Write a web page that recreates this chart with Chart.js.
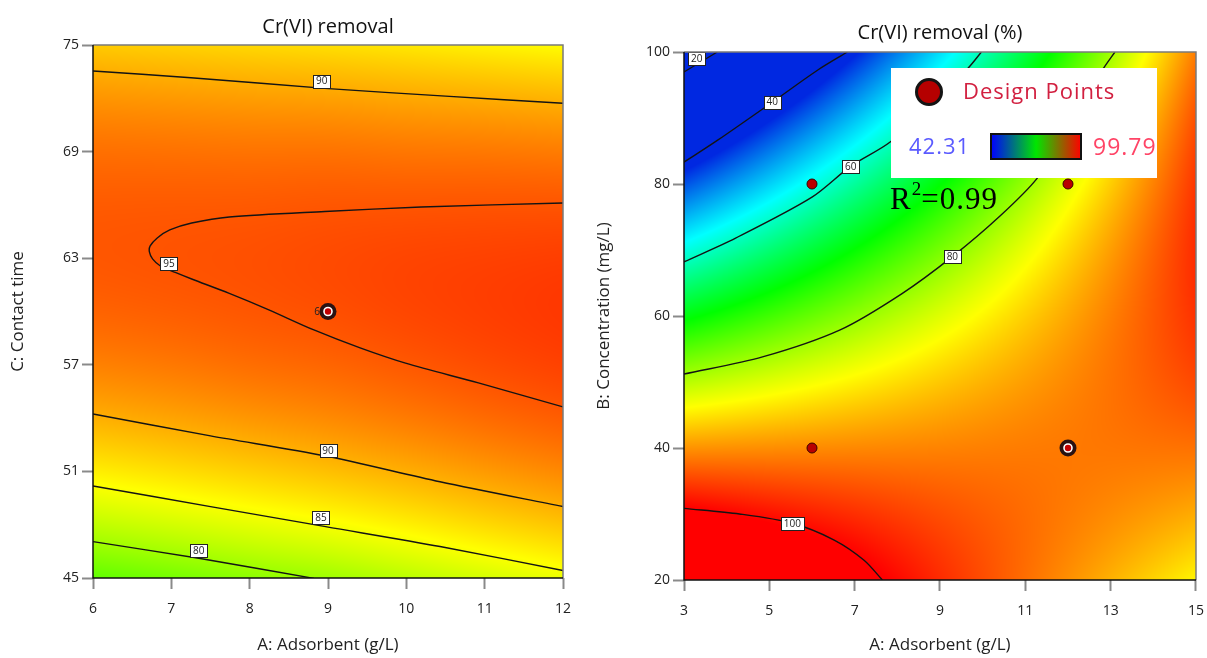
<!DOCTYPE html>
<html><head><meta charset="utf-8">
<script src="https://cdn.jsdelivr.net/npm/chart.js@4.4.1/dist/chart.umd.min.js"></script>
<style>
html,body{margin:0;padding:0;background:#fff;width:1207px;height:658px;overflow:hidden}
#wl{position:absolute;left:0;top:0;width:590px;height:658px}
#wr{position:absolute;left:590px;top:0;width:626px;height:658px}
canvas{display:block}
</style></head><body>
<div id="wl"><canvas id="cl" width="590" height="658"></canvas></div>
<div id="wr"><canvas id="cr" width="626" height="658"></canvas></div>
<script>
// ---------------- DATA ----------------
// Left panel: A (Adsorbent) x C (Contact time)
const leftTitle = 'Cr(VI) removal';
const leftXTitle = 'A: Adsorbent (g/L)';
const leftYTitle = 'C: Contact time';
const leftA = [6, 7, 8, 9, 10, 11, 12];
const leftC = [45, 51, 57, 63, 69, 75];
// removal (%) estimated on the grid, rows follow leftC, columns follow leftA
const leftRow45 = [76.4, 77.6, 78.9, 80.0, 81.5, 83.0, 84.4];
const leftRow51 = [86.3, 87.2, 88.1, 89.0, 90.0, 91.1, 92.1];
const leftRow57 = [92.5, 93.0, 93.6, 94.1, 94.8, 95.5, 96.1];
const leftRow63 = [94.9, 95.1, 95.3, 95.6, 95.9, 96.1, 96.3];
const leftRow69 = [93.5, 93.4, 93.3, 93.3, 93.1, 93.0, 92.8];
const leftRow75 = [88.4, 88.0, 87.6, 87.2, 86.7, 86.1, 85.5];
// contour lines (A, C)
const l90TopA = [6, 7.25, 8.96, 10.5, 12];
const l90TopC = [73.54, 73.16, 72.56, 72.12, 71.72];
const l95A = [12, 10.19, 8.96, 7.74, 7.26, 6.98, 6.82, 6.73, 6.72, 6.76, 6.86, 7.05, 7.26, 7.74, 8.23, 8.82, 9.41, 9.99, 10.92, 12];
const l95C = [66.11, 65.88, 65.63, 65.32, 64.98, 64.59, 64.14, 63.69, 63.35, 62.96, 62.56, 62.20, 61.83, 61.02, 60.12, 58.96, 57.95, 57.09, 55.98, 54.63];
const l90LowA = [6, 7.5, 8.97, 10.43, 12];
const l90LowC = [54.23, 53.0, 51.87, 50.42, 49.02];
const l85A = [6, 7.5, 8.97, 10.43, 12];
const l85C = [50.18, 49.02, 47.89, 46.77, 45.42];
const l80A = [6, 7.35, 8.82];
const l80C = [47.05, 46.11, 44.98];
const leftLabelValues = ['90', '95', '90', '85', '80'];
const leftLabelA = [8.92, 6.97, 9.0, 8.91, 7.35];
const leftLabelC = [72.97, 62.68, 52.15, 48.38, 46.52];
const leftDesignA = [9];
const leftDesignC = [60];
const leftReplicates = ['6'];

// Right panel: A (Adsorbent) x B (Concentration)
const rightTitle = 'Cr(VI) removal (%)';
const rightXTitle = 'A: Adsorbent (g/L)';
const rightYTitle = 'B: Concentration (mg/L)';
const rightA = [3, 5, 7, 9, 11, 13, 15];
const rightB = [20, 30, 40, 50, 60, 70, 80, 90, 100];
const rightRow20 = [109.0, 105.1, 101.3, 97.4, 93.6, 89.8, 85.9];
const rightRow30 = [100.7, 98.9, 97.2, 95.4, 93.7, 91.9, 90.1];
const rightRow40 = [91.5, 91.8, 92.1, 92.4, 92.8, 93.1, 93.4];
const rightRow50 = [81.3, 83.7, 86.1, 88.5, 90.9, 93.3, 95.7];
const rightRow60 = [70.2, 74.6, 79.1, 83.6, 88.1, 92.6, 97.0];
const rightRow70 = [58.1, 64.6, 71.2, 77.7, 84.3, 90.9, 97.4];
const rightRow80 = [45.0, 53.6, 62.3, 70.9, 79.6, 88.2, 96.8];
const rightRow90 = [31.0, 41.7, 52.4, 63.1, 73.9, 84.6, 95.3];
const rightRow100 = [16.0, 28.8, 41.6, 54.4, 67.2, 80.0, 92.8];
const r20A = [3, 3.78];
const r20B = [96.97, 100];
const r40A = [3, 3.78, 5.07, 6.12, 6.83];
const r40B = [83.3, 86.6, 92.4, 97.2, 100];
const r60A = [3, 4.21, 6.0, 6.91, 7.84, 8.74, 9.65, 9.97];
const r60B = [68.2, 71.8, 78.0, 82.7, 86.4, 92.0, 97.5, 100];
const r80A = [3, 4.84, 6.66, 8.11, 9.29, 10.38, 11.28, 11.95, 12.5, 12.83, 13.1];
const r80B = [51.2, 53.8, 57.9, 63.4, 69.0, 75.0, 80.9, 88.0, 94.0, 97.5, 100];
const r100A = [3, 4.3, 5.54, 6.52, 7.22, 7.65];
const r100B = [30.86, 30.0, 28.6, 26.06, 23.0, 20];
const rightLabelValues = ['20', '40', '60', '80', '100'];
const rightLabelA = [3.30, 5.07, 6.91, 9.29, 5.54];
const rightLabelB = [98.98, 92.42, 82.7, 68.98, 28.59];
const rightDesignA = [6, 12, 6];
const rightDesignB = [80, 80, 40];
const rightReplicateA = [12];
const rightReplicateB = [40];

const legendLow = 42.31;
const legendHigh = 99.79;
const legendText = 'Design Points';
const r2Value = '0.99';

// ---------------- HELPERS ----------------
const SANS = "'Open Sans','Noto Sans',sans-serif";
Chart.defaults.font.family = SANS;
Chart.defaults.color = '#222';

const colorStops = [
  [0, [0, 40, 225]], [0.25, [0, 255, 255]], [0.5, [0, 255, 0]], [0.75, [255, 255, 0]], [1, [255, 0, 0]]
];
function colorFor(v) {
  let t = (v - legendLow) / (legendHigh - legendLow);
  if (t <= 0) return colorStops[0][1];
  if (t >= 1) return colorStops[4][1];
  for (let k = 0; k < 4; k++) {
    const a = colorStops[k], b = colorStops[k + 1];
    if (t <= b[0]) {
      const f = (t - a[0]) / (b[0] - a[0]);
      return [0, 1, 2].map(c => a[1][c] + (b[1][c] - a[1][c]) * f);
    }
  }
  return colorStops[4][1];
}
function padGrid(g) {
  const nx = g[0].length, ny = g.length;
  const rows = g.map(r => {
    const a = r.slice();
    a.unshift(3 * r[0] - 3 * r[1] + r[2]);
    a.push(3 * r[nx - 1] - 3 * r[nx - 2] + r[nx - 3]);
    return a;
  });
  const top = rows[0].map((_, i) => 3 * rows[0][i] - 3 * rows[1][i] + rows[2][i]);
  const bot = rows[0].map((_, i) => 3 * rows[ny - 1][i] - 3 * rows[ny - 2][i] + rows[ny - 3][i]);
  return [top].concat(rows, [bot]);
}
function crm(p0, p1, p2, p3, t) {
  return p1 + 0.5 * t * (p2 - p0 + t * (2 * p0 - 5 * p1 + 4 * p2 - p3 + t * (3 * (p1 - p2) + p3 - p0)));
}
function sampleGrid(P, xs, ys, x, y) {
  const fx = (x - xs[0]) / (xs[1] - xs[0]), fy = (y - ys[0]) / (ys[1] - ys[0]);
  let i = Math.max(0, Math.min(xs.length - 2, Math.floor(fx)));
  let j = Math.max(0, Math.min(ys.length - 2, Math.floor(fy)));
  const tx = fx - i, ty = fy - j;
  const r = [];
  for (let k = 0; k < 4; k++) { const row = P[j + k]; r.push(crm(row[i], row[i + 1], row[i + 2], row[i + 3], tx)); }
  return crm(r[0], r[1], r[2], r[3], ty);
}
function pts(xs, ys) { return xs.map((v, i) => ({ x: v, y: ys[i] })); }
function contour(xs, ys) {
  return { data: pts(xs, ys), showLine: true, borderColor: '#141414', borderWidth: 1.4,
    pointRadius: 0, pointHoverRadius: 0, tension: 0.3, fill: false, order: 5 };
}

const heatPlugin = {
  id: 'heat',
  beforeDatasetsDraw(chart, args, opts) {
    const { ctx, chartArea: a, scales: { x, y } } = chart;
    const L = Math.round(a.left), T = Math.round(a.top);
    const w = Math.round(a.right) - L, h = Math.round(a.bottom) - T;
    const P = padGrid(opts.grid);
    const img = ctx.createImageData(w, h);
    const xv = [], yv = [];
    for (let i = 0; i < w; i++) xv.push(x.getValueForPixel(L + i + 0.5));
    for (let j = 0; j < h; j++) yv.push(y.getValueForPixel(T + j + 0.5));
    let p = 0;
    for (let j = 0; j < h; j++) {
      for (let i = 0; i < w; i++) {
        const c = colorFor(sampleGrid(P, opts.xs, opts.ys, xv[i], yv[j]));
        img.data[p++] = c[0]; img.data[p++] = c[1]; img.data[p++] = c[2]; img.data[p++] = 255;
      }
    }
    const off = document.createElement('canvas');
    off.width = w; off.height = h;
    off.getContext('2d').putImageData(img, 0, 0);
    ctx.drawImage(off, L, T);
  }
};

const labelPlugin = {
  id: 'clabels',
  afterDatasetsDraw(chart, args, opts) {
    const { ctx, scales: { x, y }, chartArea: a } = chart;
    ctx.save();
    ctx.font = '10px ' + SANS;
    ctx.textAlign = 'center';
    ctx.textBaseline = 'middle';
    opts.values.forEach((t, k) => {
      const px = x.getPixelForValue(opts.xs[k]), py = y.getPixelForValue(opts.ys[k]);
      const tw = ctx.measureText(t).width;
      const bw = Math.round(tw + 6), bh = 13;
      const bx = Math.round(px - bw / 2) + 0.5, by = Math.round(py - bh / 2) + 0.5;
      ctx.fillStyle = '#fff';
      ctx.fillRect(bx, by, bw, bh);
      ctx.strokeStyle = '#222'; ctx.lineWidth = 1;
      ctx.strokeRect(bx, by, bw, bh);
      ctx.fillStyle = '#222';
      ctx.fillText(t, px, py + 0.5);
    });
    if (opts.rep) {
      ctx.textAlign = 'right';
      opts.rep.values.forEach((t, k) => {
        const px = x.getPixelForValue(opts.rep.xs[k]), py = y.getPixelForValue(opts.rep.ys[k]);
        ctx.fillText(t, px - 8, py + 1);
      });
    }
    // frame
    ctx.lineWidth = 1.5;
    ctx.strokeStyle = '#7a7a7a';
    ctx.beginPath();
    ctx.moveTo(a.left, a.top); ctx.lineTo(a.right, a.top); ctx.lineTo(a.right, a.bottom);
    ctx.stroke();
    ctx.strokeStyle = '#111';
    ctx.beginPath();
    ctx.moveTo(a.left, a.top); ctx.lineTo(a.left, a.bottom); ctx.lineTo(a.right, a.bottom);
    ctx.stroke();
    ctx.restore();
  }
};

const legendPlugin = {
  id: 'dlegend',
  afterDraw(chart, args, opts) {
    if (!opts.show) return;
    const ctx = chart.ctx;
    const bx = 301, by = 68, bw = 266, bh = 110;
    ctx.save();
    ctx.fillStyle = '#fff';
    ctx.fillRect(bx, by, bw, bh);
    ctx.beginPath(); ctx.rect(bx, by, bw, bh); ctx.clip();
    // symbol
    ctx.beginPath(); ctx.arc(339, 92, 12.5, 0, Math.PI * 2);
    ctx.fillStyle = '#b50000'; ctx.fill();
    ctx.lineWidth = 3; ctx.strokeStyle = '#141414'; ctx.stroke();
    ctx.textBaseline = 'middle'; ctx.textAlign = 'left';
    ctx.font = '22px ' + SANS;
    if ('letterSpacing' in ctx) ctx.letterSpacing = '1px';
    ctx.fillStyle = '#d22040';
    ctx.fillText(legendText, 373, 93);
    ctx.fillStyle = '#5a5aff';
    ctx.fillText(legendLow.toFixed(2), 319, 148);
    ctx.fillStyle = '#ff4466';
    ctx.font = '23px ' + SANS;
    ctx.fillText(legendHigh.toFixed(2), 503, 148);
    if ('letterSpacing' in ctx) ctx.letterSpacing = '0px';
    const g = ctx.createLinearGradient(401, 0, 491, 0);
    g.addColorStop(0, '#0000ff'); g.addColorStop(0.5, '#00e600'); g.addColorStop(1, '#ff0000');
    ctx.fillStyle = g;
    ctx.fillRect(401, 134, 90, 25);
    ctx.lineWidth = 2; ctx.strokeStyle = '#111';
    ctx.strokeRect(401, 134, 90, 25);
    ctx.restore();
    // R^2
    ctx.save();
    ctx.fillStyle = '#000';
    ctx.textBaseline = 'alphabetic'; ctx.textAlign = 'left';
    const serif = '"Liberation Serif","Times New Roman",serif';
    ctx.font = '31px ' + serif;
    if ('letterSpacing' in ctx) ctx.letterSpacing = '1px';
    ctx.fillText('R', 300, 209);
    const rw = ctx.measureText('R').width;
    ctx.font = '19px ' + serif;
    ctx.fillText('2', 300 + rw, 195);
    const sw = ctx.measureText('2').width;
    ctx.font = '31px ' + serif;
    ctx.fillText('=' + r2Value, 300 + rw + sw - 1, 209);
    ctx.restore();
  }
};

function baseOptions(cfg) {
  return {
    responsive: false, animation: false, devicePixelRatio: 1,
    events: [],
    layout: { padding: { left: 0, right: cfg.padRight, top: cfg.padTop, bottom: 0 } },
    plugins: {
      legend: { display: false }, tooltip: { enabled: false },
      title: { display: true, text: cfg.title, fullSize: false, color: '#111',
        font: { size: 20, weight: 'normal' }, padding: { top: 0, bottom: cfg.titlePadBottom } },
      heat: { xs: cfg.xs, ys: cfg.ys, grid: cfg.grid },
      clabels: cfg.labels,
      dlegend: { show: cfg.legend }
    },
    scales: {
      x: {
        type: 'linear', position: 'bottom', min: cfg.xmin, max: cfg.xmax,
        ticks: { stepSize: cfg.xstep, padding: 12, font: { size: 14 }, color: '#222' },
        grid: { drawOnChartArea: false, drawTicks: true, tickLength: 11, tickColor: '#8a8a8a', tickWidth: 2 },
        border: { display: false },
        title: { display: true, text: cfg.xTitle, color: '#222', font: { size: 17 }, padding: { top: 0, bottom: 2.8 } },
        afterFit: s => { s.height = cfg.xHeight; }
      },
      y: {
        type: 'linear', position: 'left', min: cfg.ymin, max: cfg.ymax,
        ticks: { stepSize: cfg.ystep, padding: 3, font: { size: 14 }, color: '#222' },
        grid: { drawOnChartArea: false, drawTicks: true, tickLength: 11, tickColor: '#8a8a8a', tickWidth: 2 },
        border: { display: false },
        title: { display: true, text: cfg.yTitle, color: '#222', font: { size: 17 }, padding: { top: cfg.yTitlePad, bottom: 0 } },
        afterFit: s => { s.width = cfg.yWidth; }
      }
    }
  };
}

function designSets(xs, ys, repXs, repYs) {
  const sets = [{ data: pts(xs, ys), showLine: false, pointRadius: 5, pointHoverRadius: 5,
    pointBackgroundColor: '#b80000', pointBorderColor: '#3a0000', pointBorderWidth: 1, order: 2 }];
  if (repXs.length) {
    sets.push({ data: pts(repXs, repYs), showLine: false, pointRadius: 8.5, pointHoverRadius: 8.5,
      pointBackgroundColor: '#2a1212', pointBorderWidth: 0, order: 3 });
    sets.push({ data: pts(repXs, repYs), showLine: false, pointRadius: 4, pointHoverRadius: 4,
      pointBackgroundColor: '#c40000', pointBorderColor: '#ffffff', pointBorderWidth: 1.6, order: 1 });
  }
  return sets;
}

// ---------------- LEFT CHART ----------------
new Chart(document.getElementById('cl'), {
  type: 'scatter',
  data: {
    datasets: [
      contour(l90TopA, l90TopC), contour(l95A, l95C), contour(l90LowA, l90LowC),
      contour(l85A, l85C), contour(l80A, l80C)
    ].concat(designSets([], [], leftDesignA, leftDesignC))
  },
  options: baseOptions({
    title: leftTitle, xTitle: leftXTitle, yTitle: leftYTitle,
    padRight: 27, padTop: 15, titlePadBottom: 6, xHeight: 80, yWidth: 93, yTitlePad: 7.8,
    xmin: 6, xmax: 12, xstep: 1, ymin: 45, ymax: 75, ystep: 6,
    xs: leftA, ys: leftC,
    grid: [leftRow45, leftRow51, leftRow57, leftRow63, leftRow69, leftRow75],
    labels: { values: leftLabelValues, xs: leftLabelA, ys: leftLabelC,
      rep: { values: leftReplicates, xs: leftDesignA, ys: leftDesignC } },
    legend: false
  }),
  plugins: [heatPlugin, labelPlugin, legendPlugin]
});

// ---------------- RIGHT CHART ----------------
new Chart(document.getElementById('cr'), {
  type: 'scatter',
  data: {
    datasets: [
      contour(r20A, r20B), contour(r40A, r40B), contour(r60A, r60B),
      contour(r80A, r80B), contour(r100A, r100B)
    ].concat(designSets(rightDesignA, rightDesignB, rightReplicateA, rightReplicateB))
  },
  options: baseOptions({
    title: rightTitle, xTitle: rightXTitle, yTitle: rightYTitle,
    padRight: 11, padTop: 21, titlePadBottom: 7, xHeight: 78, yWidth: 94, yTitlePad: 3.8,
    xmin: 3, xmax: 15, xstep: 2, ymin: 20, ymax: 100, ystep: 20,
    xs: rightA, ys: rightB,
    grid: [rightRow20, rightRow30, rightRow40, rightRow50, rightRow60, rightRow70, rightRow80, rightRow90, rightRow100],
    labels: { values: rightLabelValues, xs: rightLabelA, ys: rightLabelB },
    legend: true
  }),
  plugins: [heatPlugin, labelPlugin, legendPlugin]
});
</script>
</body></html>
